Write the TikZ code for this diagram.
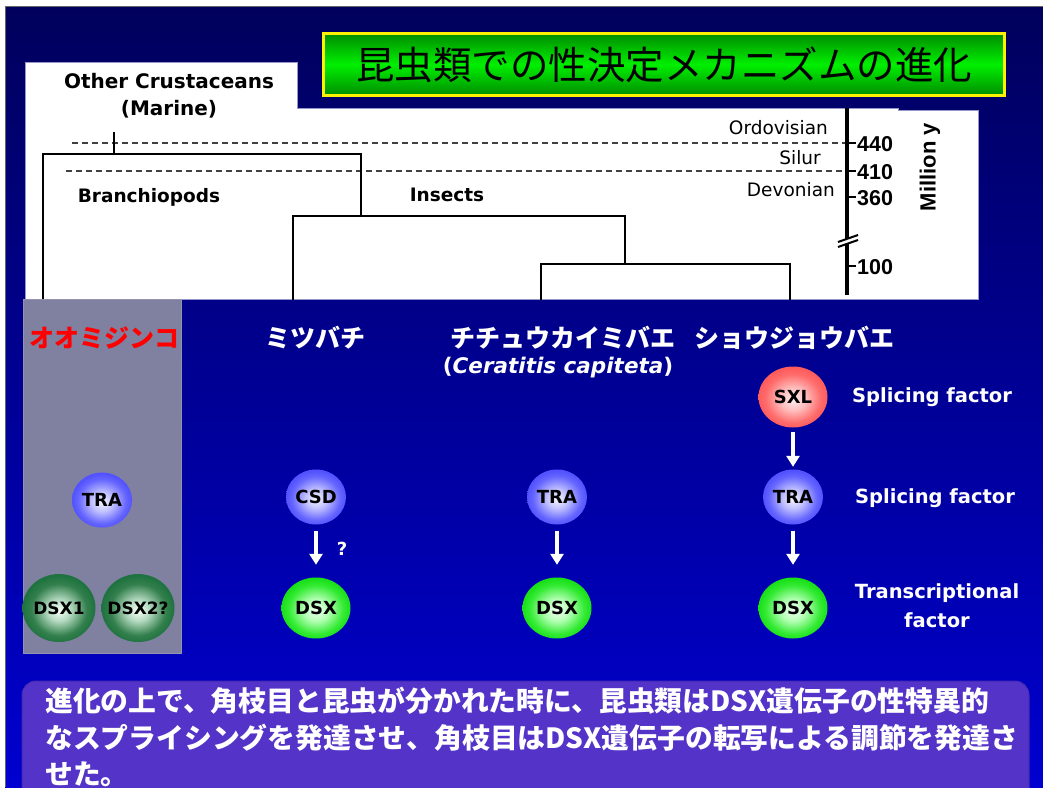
\documentclass[tikz,border=0pt]{standalone}
\usepackage{fontspec}
\setmainfont{DejaVu Sans}
\newfontfamily\jpfont{Noto Sans CJK JP}
\newfontfamily\arialf{Liberation Sans}
\usetikzlibrary{shapes.geometric,arrows.meta}

\definecolor{bgtop}{RGB}{0,0,92}
\definecolor{bgbot}{RGB}{0,0,208}
\definecolor{panelEdge}{RGB}{150,150,200}
\definecolor{colgrey}{RGB}{128,128,160}
\definecolor{boxfill}{RGB}{84,52,200}
\definecolor{boxedge}{RGB}{70,40,180}
\definecolor{titletop}{RGB}{0,140,0}
\definecolor{titlemid}{RGB}{0,240,0}
\definecolor{jpred}{RGB}{255,0,0}

\pgfdeclareradialshading{ballblue}{\pgfpoint{0bp}{-2bp}}{rgb(0bp)=(0.96,0.96,1); rgb(9bp)=(0.75,0.75,1); rgb(20bp)=(0.4,0.4,1); rgb(25bp)=(0.32,0.32,1); rgb(50bp)=(0.32,0.32,1)}
\pgfdeclareradialshading{ballred}{\pgfpoint{0bp}{-2bp}}{rgb(0bp)=(1,0.93,0.93); rgb(9bp)=(1,0.75,0.75); rgb(20bp)=(1,0.42,0.42); rgb(25bp)=(1,0.36,0.36); rgb(50bp)=(1,0.36,0.36)}
\pgfdeclareradialshading{ballgreen}{\pgfpoint{0bp}{-2bp}}{rgb(0bp)=(0.95,1,0.95); rgb(9bp)=(0.7,1,0.7); rgb(20bp)=(0.2,0.92,0.2); rgb(25bp)=(0.1,0.88,0.1); rgb(50bp)=(0.1,0.88,0.1)}
\pgfdeclareradialshading{balldark}{\pgfpoint{0bp}{-2bp}}{rgb(0bp)=(0.97,1,0.97); rgb(8bp)=(0.7,0.85,0.75); rgb(19bp)=(0.2,0.5,0.3); rgb(25bp)=(0.12,0.45,0.25); rgb(50bp)=(0.12,0.45,0.25)}

\tikzset{
  tree/.style={line width=2.2pt, black, line cap=rect},
  dashline/.style={line width=1.3pt, black!75, dash pattern=on 6pt off 4pt},
  axisline/.style={line width=4pt, black},
  tickline/.style={line width=1.6pt, black},
  numlbl/.style={anchor=west, inner sep=0pt, font=\arialf\bfseries\fontsize{21.5}{22}\selectfont},
  erralbl/.style={anchor=east, inner sep=0pt, font=\fontsize{18.5}{20}\selectfont},
  treelbl/.style={inner sep=0pt, font=\bfseries\fontsize{18.5}{20}\selectfont},
  bigtreelbl/.style={inner sep=0pt, font=\bfseries\fontsize{20}{22}\selectfont},
  species/.style={inner sep=0pt, text=white, font=\jpfont\bfseries\fontsize{25}{27}\selectfont},
  gene/.style={ellipse, inner sep=0pt, text=black, font=\bfseries\fontsize{18}{19}\selectfont},
  genesmall/.style={gene, minimum width=60pt, minimum height=55pt},
  bluegene/.style={genesmall, shading=ballblue},
  redgene/.style={gene, minimum width=69pt, minimum height=61pt, shading=ballred},
  greengene/.style={gene, minimum width=69pt, minimum height=61pt, shading=ballgreen},
  darkgene/.style={gene, minimum width=73pt, minimum height=68pt, shading=balldark, font=\bfseries\fontsize{17}{19}\selectfont},
  arr/.style={line width=3.2pt, white, -{Triangle[width=13pt,length=11pt]}},
  rolelbl/.style={inner sep=0pt, text=white, align=center, font=\bfseries\fontsize{19.5}{29}\selectfont},
  bottomtxt/.style={anchor=base west, inner sep=0pt, text=white, font=\jpfont\bfseries\fontsize{27.8}{30}\selectfont},
}

\begin{document}
\begin{tikzpicture}[x=1pt,y=-1pt]
\useasboundingbox (0,0) rectangle (1043,787);
\fill[white] (0,0) rectangle (1043,787);
\shade[top color=bgtop, bottom color=bgbot] (5,6) rectangle (1043,787);
\draw[black!60, line width=1pt] (5,787) -- (5,6) -- (1043,6);

% title
\node[draw=yellow, line width=3pt, top color=titletop, bottom color=titletop, middle color=titlemid,
      minimum width=681pt, minimum height=62pt, inner sep=0pt,
      font=\jpfont\fontsize{38.5}{40}\selectfont] (title) at (664,64.5) {昆虫類での性決定メカニズムの進化};

% white panel
\draw[fill=white, draw=panelEdge, line width=0.8pt]
  (25,62) -- (297,62) -- (297,108) -- (898,108) -- (898,110) -- (978,110) -- (978,299) -- (25,299) -- cycle;

% dashed era lines
\coordinate (d1a) at (72,143); \coordinate (d1b) at (846,143);
\coordinate (d2a) at (66,171); \coordinate (d2b) at (846,171);
\draw[dashline] (d1a) -- (d1b);
\draw[dashline] (d2a) -- (d2b);

% tree
\coordinate (rootTop) at (114,133);
\coordinate (root) at (114,154);
\coordinate (tipBranch) at (43,299);
\coordinate (insNode) at (361,154);
\coordinate (insJoin) at (361,216);
\coordinate (tipBee) at (293,299);
\coordinate (flyNode) at (625,216);
\coordinate (flyJoin) at (625,264);
\coordinate (tipCer) at (541,299);
\coordinate (tipDro) at (790,299);
\draw[tree] (rootTop) -- (root);
\draw[tree] (tipBranch) |- (insNode) -- (insJoin);
\draw[tree] (tipBee) |- (flyNode) -- (flyJoin);
\draw[tree] (tipCer) |- (flyJoin -| tipDro) -- (tipDro);

% axis
\coordinate (axTop) at (847,108);
\coordinate (axBot) at (847,295);
\draw[axisline] (axTop) -- (axBot);
\fill[white] (838,242) -- (858,235) -- (858,240) -- (838,247) -- cycle;
\draw[line width=2pt] (838,242) -- (858,235);
\draw[line width=2pt] (838,247) -- (858,240);
\draw[tickline] (847,143) -- (856,143);
\draw[tickline] (847,171) -- (856,171);
\draw[tickline] (847,197) -- (856,197);
\draw[tickline] (847,266) -- (856,266);
\node[numlbl] (n440) at (857,144) {440};
\node[numlbl] (n410) at (857,172) {410};
\node[numlbl] (n360) at (857,198) {360};
\node[numlbl] (n100) at (857,267) {100};
\node[rotate=90, inner sep=0pt, font=\arialf\bfseries\fontsize{22}{24}\selectfont] (my) at (930,167) {Million y};

\node[erralbl] (ord) at (828,128) {Ordovisian};
\node[erralbl] (sil) at (821,158) {Silur};
\node[erralbl] (dev) at (835,190) {Devonian};

\node[bigtreelbl] (oc) at (169,81) {Other Crustaceans};
\node[bigtreelbl] (mar) at (169,109) {(Marine)};
\node[treelbl] (bra) at (149,197) {Branchiopods};
\node[treelbl] (ins) at (447,195) {Insects};

% grey column
\fill[colgrey] (23,299) rectangle (181,653);
\draw[colgrey!85!white, line width=0.8pt] (23,299) rectangle (181,653);

% species
\node[species, text=jpred] (sp1) at (104,338) {オオミジンコ};
\node[species] (sp2) at (315,338) {ミツバチ};
\node[species] (sp3) at (563,338) {チチュウカイミバエ};
\node[species] (sp4) at (794,338) {ショウジョウバエ};
\node[inner sep=0pt, text=white, font=\bfseries\fontsize{21.5}{23}\selectfont] (sp3b) at (558,368) {(\textit{Ceratitis capiteta})};

% genes
\node[bluegene] (traA) at (102,500) {TRA};
\node[darkgene] (dsx1) at (59,608) {\makebox[0pt]{DSX1}};
\node[darkgene] (dsx2) at (138,608) {\makebox[0pt]{DSX2?}};

\node[bluegene] (csd) at (316,497) {CSD};
\node[greengene] (dsxB) at (316,608) {DSX};

\node[bluegene] (traC) at (557,497) {TRA};
\node[greengene] (dsxC) at (557,608) {DSX};

\node[redgene] (sxl) at (793,397) {SXL};
\node[bluegene] (traD) at (793,497) {TRA};
\node[greengene] (dsxD) at (793,608) {DSX};

\draw[arr, shorten <=6pt, shorten >=12.5pt] (csd) -- (dsxB);
\draw[arr, shorten <=6pt, shorten >=12.5pt] (traC) -- (dsxC);
\draw[arr, shorten <=4.5pt, shorten >=2.5pt] (sxl) -- (traD);
\draw[arr, shorten <=6pt, shorten >=12.5pt] (traD) -- (dsxD);
\node[inner sep=0pt, text=white, font=\bfseries\fontsize{18}{19}\selectfont] (q) at (342,549) {?};

% role labels
\node[rolelbl] (r1) at (932,397) {Splicing factor};
\node[rolelbl] (r2) at (935,498) {Splicing factor};
\node[rolelbl] (r3) at (937,606) {Transcriptional\\factor};

% bottom box
\begin{scope}
\clip (0,0) rectangle (1043,787);
\draw[rounded corners=14pt, fill=boxfill, draw=boxedge, line width=1pt] (22,681) rectangle (1029,805);
\end{scope}
\node[bottomtxt] (bt1) at (45,711) {進化の上で、角枝目と昆虫が分かれた時に、昆虫類はDSX遺伝子の性特異的};
\node[bottomtxt] (bt2) at (45,748) {なスプライシングを発達させ、角枝目はDSX遺伝子の転写による調節を発達さ};
\node[bottomtxt] (bt3) at (45,784) {せた。};
\end{tikzpicture}
\end{document}
